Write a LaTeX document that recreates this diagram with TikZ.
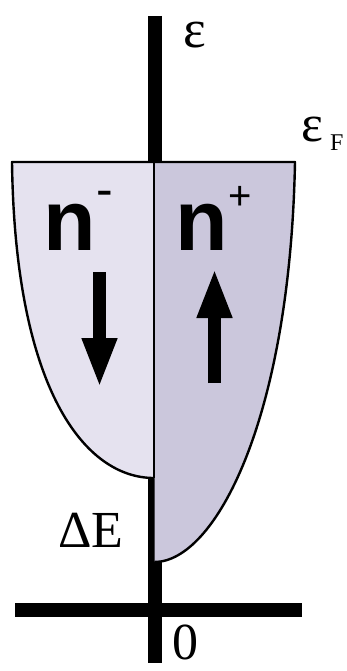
\documentclass[tikz,border=0pt]{standalone}
\usepackage{fontspec}
\setmainfont{Liberation Serif}
\setsansfont{Liberation Sans}
\usetikzlibrary{arrows.meta}
\definecolor{spinlow}{RGB}{229,226,239}
\definecolor{spinhigh}{RGB}{203,199,220}
\tikzset{
    axisbar/.style={line width=14pt},
    bandline/.style={line width=2.4pt, line join=round},
    spinarrow/.style={line width=13pt, -{Triangle[width=32pt, length=50pt]}},
    bigletter/.style={font=\sffamily\bfseries\fontsize{86}{90}\selectfont, anchor=base west},
    serifbig/.style={font=\fontsize{52}{56}\selectfont, anchor=base west}
}
\begin{document}
\begin{tikzpicture}[x=1pt, y=-1pt, every node/.style={inner sep=0pt}]
    \useasboundingbox (0,0) rectangle (347,671);
    % axes
    \draw[axisbar] (154.5,16) -- (154.5,663);
    \draw[axisbar] (15,610) -- (302,610);
    % density of states, minority and majority bands
    \fill[spinlow] (12,162) -- (154.5,162) -- (154.5,478)
        .. controls (85,478) and (15,390) .. (12,162) -- cycle;
    \fill[spinhigh] (154.5,162) -- (295,162)
        .. controls (290,420) and (215,562) .. (154.5,562) -- cycle;
    \draw[bandline] (154,478) .. controls (85,478) and (15,390) .. (12,162)
        -- (295,162) .. controls (290,420) and (215,562) .. (154.5,562);
    \draw[line width=2.4pt] (154,162) -- (154,478);
    % spin arrows
    \draw[spinarrow] (99.5,272) -- (99.5,388);
    \draw[spinarrow] (214.5,383) -- (214.5,268);
    % labels
    \node[bigletter] (nminus) at (43,250) {n};
    \node[font=\sffamily\fontsize{50}{50}\selectfont, anchor=center] (supminus) at (104.5,199) {-};
    \node[bigletter] (nplus) at (175,250) {n};
    \node[font=\sffamily\fontsize{40}{40}\selectfont, anchor=center] (supplus) at (240,198) {+};
    \node[font=\fontsize{54}{54}\selectfont, anchor=base west] (energy) at (183,48) {ε};
    \node[font=\fontsize{52}{52}\selectfont, anchor=base west] (fermi) at (301,142) {ε};
    \node[font=\fontsize{24}{24}\selectfont, anchor=base west] (fermisub) at (330,150) {F};
    \node[serifbig] (gap) at (58,547) {ΔE};
    \node[serifbig] (zero) at (172,659) {0};
\end{tikzpicture}
\end{document}
